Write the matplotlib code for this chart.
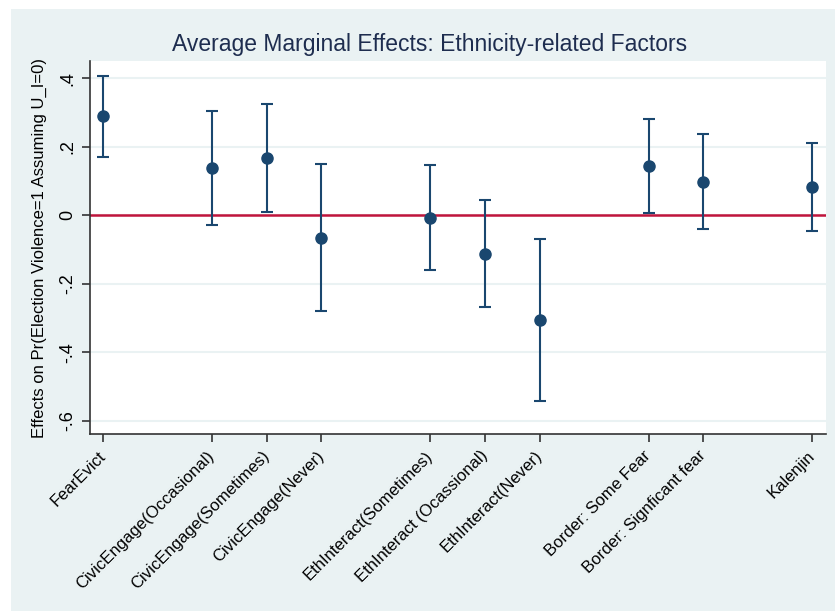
import matplotlib
matplotlib.use("Agg")
import matplotlib.pyplot as plt
from matplotlib.patches import Rectangle

plt.rcParams["font.family"] = ["Liberation Sans", "DejaVu Sans"]

labels = ["FearEvict", "CivicEngage(Occasional)", "CivicEngage(Sometimes)",
          "CivicEngage(Never)", "EthInteract(Sometimes)", "EthInteract (Ocassional)",
          "EthInteract(Never)", "Border: Some Fear", "Border: Signficant fear",
          "Kalenjin"]
positions = [0, 2, 3, 4, 6, 7, 8, 10, 11, 13]
effects = [0.289, 0.137, 0.168, -0.065, -0.008, -0.112, -0.306, 0.144, 0.098, 0.082]
ci_low = [0.170, -0.028, 0.010, -0.278, -0.159, -0.268, -0.542, 0.007, -0.039, -0.047]
ci_high = [0.407, 0.303, 0.326, 0.149, 0.147, 0.046, -0.069, 0.281, 0.236, 0.212]
yticks = [0.4, 0.2, 0.0, -0.2, -0.4, -0.6]
ytick_labels = [".4", ".2", "0", "-.2", "-.4", "-.6"]

navy = "#1a476f"
bg = "#eaf2f3"

fig = plt.figure(figsize=(8.35, 6.11), dpi=100)
fig.patch.set_facecolor("white")
fig.patches.append(Rectangle((11 / 835, 0), 1, 1 - 9 / 611,
                             transform=fig.transFigure, facecolor=bg,
                             edgecolor="none", zorder=-10))

ax = fig.add_axes([90 / 835, 1 - 434 / 611, (826 - 90) / 835, (434 - 61) / 611])
ax.set_facecolor("white")

yerr = [[e - lo for e, lo in zip(effects, ci_low)],
        [hi - e for e, hi in zip(effects, ci_high)]]
ax.axhline(0, color="#c0143c", lw=1.8, zorder=2)
ax.errorbar(positions, effects, yerr=yerr, fmt="o", color=navy,
            markersize=8, elinewidth=1.5, capsize=4.5, capthick=1.5, zorder=3)

ax.set_xlim(-0.24, 13.25)
ax.set_ylim(-0.638, 0.45)
ax.set_yticks(yticks)
ax.set_yticklabels(ytick_labels, rotation=90, va="center", fontsize=13)
ax.set_xticks(positions)
ax.set_xticklabels(labels, rotation=45, ha="right", va="center",
                   rotation_mode="anchor", fontsize=12)
ax.grid(axis="y", color=bg, lw=1.5, zorder=0)
ax.set_axisbelow(True)

for s in ["top", "right"]:
    ax.spines[s].set_visible(False)
for s in ["left", "bottom"]:
    ax.spines[s].set_color("#333333")
    ax.spines[s].set_linewidth(1.2)
ax.tick_params(axis="y", length=6, width=1.2, color="#333333", pad=4)
ax.tick_params(axis="x", length=6, width=1.2, color="#333333", pad=8)

ax.set_ylabel("Effects on Pr(Election Violence=1 Assuming U_I=0)", fontsize=12,
              labelpad=9)
ax.set_title("Average Marginal Effects: Ethnicity-related Factors",
             fontsize=16.5, color="#1e2d4f", pad=7, x=0.461)

fig.savefig("out.png", dpi=100, facecolor=fig.get_facecolor())
